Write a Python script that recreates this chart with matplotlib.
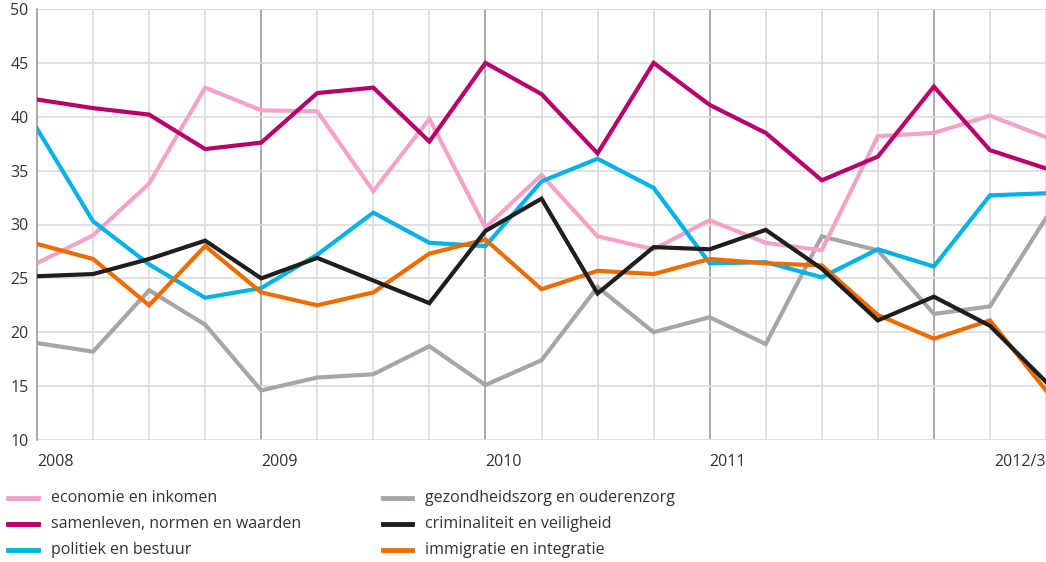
import numpy as np
import matplotlib.pyplot as plt
from matplotlib.lines import Line2D

plt.rcParams['font.family'] = ['Open Sans', 'DejaVu Sans']

# kwartalen 2008/1 t/m 2012/3
quarters = np.arange(19)
tick_pos = [0, 4, 8, 12, 18]
tick_labels = ['2008', '2009', '2010', '2011', '2012/3']
year_lines = [4, 8, 12, 16]

economie = [26.4, 29.0, 33.8, 42.7, 40.6, 40.5, 33.1, 39.8, 29.7, 34.6, 28.9, 27.7,
            30.4, 28.3, 27.6, 38.2, 38.5, 40.1, 38.1]
samenleven = [41.6, 40.8, 40.2, 37.0, 37.6, 42.2, 42.7, 37.7, 45.0, 42.1, 36.6, 45.0,
              41.1, 38.5, 34.1, 36.3, 42.8, 36.9, 35.2]
politiek = [38.9, 30.3, 26.3, 23.2, 24.1, 27.2, 31.1, 28.3, 28.0, 34.0, 36.1, 33.4,
            26.4, 26.5, 25.1, 27.7, 26.1, 32.7, 32.9]
gezondheid = [19.0, 18.2, 23.9, 20.7, 14.6, 15.8, 16.1, 18.7, 15.1, 17.4, 24.2, 20.0,
              21.4, 18.9, 28.9, 27.6, 21.7, 22.4, 30.6]
criminaliteit = [25.2, 25.4, 26.8, 28.5, 25.0, 26.9, 24.8, 22.7, 29.4, 32.4, 23.6, 27.9,
                 27.7, 29.5, 25.9, 21.1, 23.3, 20.6, 15.4]
immigratie = [28.2, 26.8, 22.5, 28.0, 23.7, 22.5, 23.7, 27.3, 28.6, 24.0, 25.7, 25.4,
              26.8, 26.4, 26.2, 21.6, 19.4, 21.1, 14.6]

names = ['economie en inkomen', 'samenleven, normen en waarden', 'politiek en bestuur',
         'gezondheidszorg en ouderenzorg', 'criminaliteit en veiligheid', 'immigratie en integratie']
colors = ['#f2a3c7', '#b8006b', '#00b2e5', '#aaa5a5', '#1e1e1e', '#ec6c00']
series = [economie, samenleven, politiek, gezondheid, criminaliteit, immigratie]
zorder = [3, 7, 4, 2, 6, 5]

W, H = 1046, 562
fig = plt.figure(figsize=(W / 100, H / 100), dpi=100)
ax = fig.add_axes([37 / W, 1 - 440 / H, 1 - 37 / W, (440 - 9) / H])

for q in quarters:
    c = '#a09b9b' if q in year_lines else '#dcdcdc'
    ax.axvline(q, color=c, lw=1.2, zorder=0)
for v in range(10, 51, 5):
    ax.axhline(v, color='#dcdcdc', lw=1.2, zorder=0)

for s, c, n, z in zip(series, colors, names, zorder):
    ax.plot(quarters, s, color=c, lw=3, label=n, zorder=z, solid_joinstyle='miter')

ax.set_xlim(0, 18)
ax.set_ylim(10, 50)
ax.set_yticks(range(10, 51, 5))
ax.set_xticks(tick_pos)
ax.set_xticklabels(tick_labels)
for lab in ax.get_xticklabels()[:-1]:
    lab.set_horizontalalignment('left')
ax.get_xticklabels()[-1].set_horizontalalignment('right')
ax.tick_params(length=0, labelsize=11.5, colors='#333333')
ax.tick_params(axis='x', pad=10)
ax.tick_params(axis='y', pad=6)
for sp in ['top', 'right', 'bottom']:
    ax.spines[sp].set_visible(False)
ax.spines['left'].set_color('#a09b9b')
ax.spines['left'].set_linewidth(1.2)

# legenda in twee kolommen
col_x = [(8, 38, 51), (383, 412, 425)]
row_y = [498, 524, 550]
for i, (c, n) in enumerate(zip(colors, names)):
    x0, x1, xt = col_x[i // 3]
    y = 1 - row_y[i % 3] / H
    fig.add_artist(Line2D([x0 / W, x1 / W], [y, y], color=c, lw=3.5,
                          transform=fig.transFigure))
    fig.text(xt / W, y, n, fontsize=11.5, color='#333333', va='center', ha='left')

fig.savefig('out.png', dpi=100)
